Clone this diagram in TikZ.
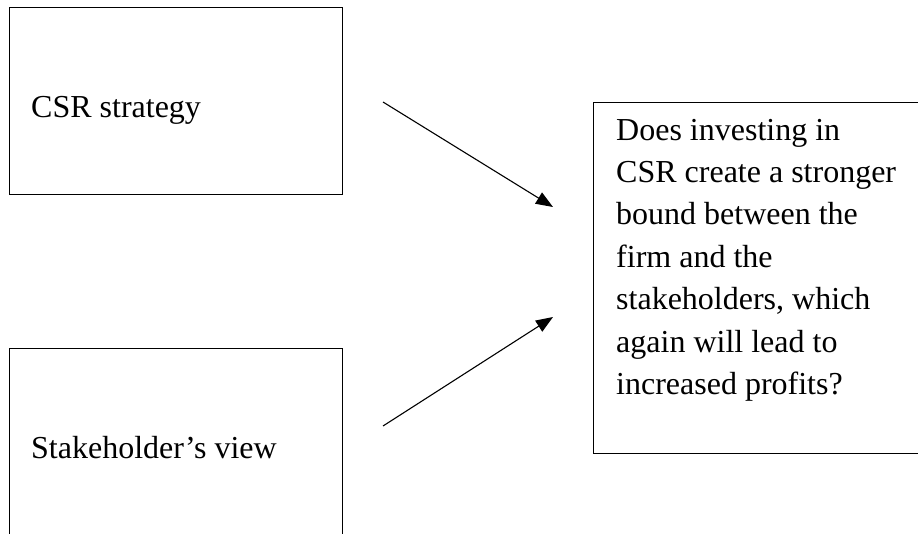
\documentclass[tikz,border=0pt]{standalone}
\usepackage{fontspec}
\setmainfont{Liberation Serif}
\usetikzlibrary{arrows.meta}
\tikzset{
  boxstyle/.style={draw=black, line width=1.3pt, fill=none, rectangle, inner sep=0pt},
  labelstyle/.style={anchor=base west, inner sep=0pt, font=\fontsize{32}{42.4}\selectfont},
  arrowstyle/.style={line width=1.1pt, -{Triangle[length=17pt,width=13pt]}}
}
\begin{document}
\begin{tikzpicture}[x=1pt,y=-1pt]
\useasboundingbox (0,0) rectangle (918,533);
\fill[white] (0,0) rectangle (918,533);
\clip (0,0) rectangle (918,533);
% boxes
\node[boxstyle, anchor=north west, minimum width=333pt, minimum height=187pt] (box1) at (9,7) {};
\node[boxstyle, anchor=north west, minimum width=333pt, minimum height=200pt] (box2) at (9,348) {};
\node[boxstyle, anchor=north west, minimum width=340pt, minimum height=351pt] (box3) at (593,102) {};
% texts
\node[labelstyle] (t1) at (31,117) {CSR strategy};
\node[labelstyle] (t2) at (31,458) {Stakeholder’s view};
\node[labelstyle] (t3) at (616,140) {\parbox[t]{300pt}{\fontsize{32}{42.4}\selectfont\raggedright
Does investing in\\
CSR create a stronger\\
bound between the\\
firm and the\\
stakeholders, which\\
again will lead to\\
increased profits?}};
% arrows
\coordinate (a1s) at (383,102);
\coordinate (a1e) at (553,207);
\coordinate (a2s) at (383,426);
\coordinate (a2e) at (553,317);
\draw[arrowstyle] (a1s) -- (a1e);
\draw[arrowstyle] (a2s) -- (a2e);
\end{tikzpicture}
\end{document}
